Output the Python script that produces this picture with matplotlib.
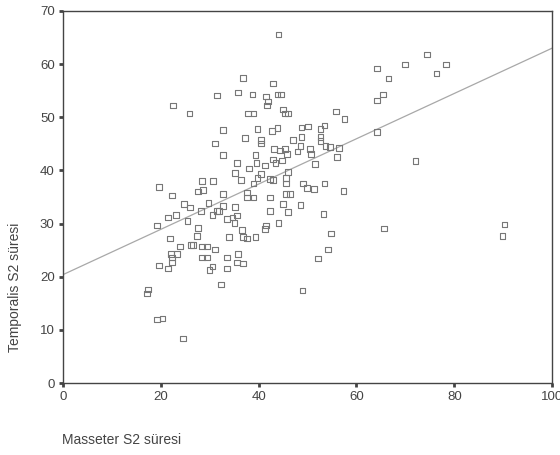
import matplotlib
matplotlib.use("Agg")
import matplotlib.pyplot as plt
import numpy as np

# ---------------------------------------------------------------------------
# Data (Masseter S2 vs Temporalis S2)
# ---------------------------------------------------------------------------
masseter = [
    44.1, 74.4, 69.9, 78.3, 76.3, 66.5, 65.4, 64.2, 64.2, 64.2,
    72.0, 36.8, 42.9, 35.8, 38.7, 41.5, 43.8, 44.6, 41.9, 41.7,
    37.8, 38.9, 45.0, 45.4, 46.0, 55.8, 57.5, 32.7, 39.7, 42.7,
    43.8, 48.7, 50.1, 52.6, 53.4, 37.2, 40.5, 40.5, 47.0, 48.7,
    52.6, 52.6, 32.7, 43.1, 44.4, 45.4, 45.8, 47.9, 48.5, 50.5,
    50.7, 53.6, 54.6, 56.4, 56.0, 35.6, 39.3, 39.5, 42.9, 43.4,
    44.8, 51.5, 35.2, 38.0, 41.3, 36.4, 38.9, 39.7, 40.5, 42.3,
    42.9, 45.6, 45.6, 46.0, 49.1, 49.9, 51.3, 53.4, 57.3, 32.7,
    37.6, 37.6, 38.9, 42.3, 45.6, 46.4, 31.5, 22.5, 25.8, 31.1,
    28.4, 30.7, 19.6, 22.3, 27.6, 28.6, 24.7, 26.0, 28.2, 29.7,
    19.2, 21.5, 23.1, 25.4, 30.5, 31.5, 31.9, 27.6, 27.4, 21.9,
    23.9, 26.2, 26.6, 28.4, 29.4, 31.1, 33.9, 22.1, 22.3, 22.3,
    23.3, 28.4, 29.4, 19.6, 21.5, 29.9, 30.5, 33.5, 33.5, 32.3,
    17.4, 17.2, 19.2, 20.4, 24.5, 32.7, 35.2, 42.3, 45.0, 46.0,
    48.5, 53.2, 33.5, 34.6, 35.0, 35.6, 41.5, 41.3, 44.0, 65.6,
    36.6, 36.8, 37.6, 39.3, 54.8, 35.8, 35.6, 36.8, 54.2, 52.1,
    48.9, 90.2, 89.8,
]
temporalis = [
    65.6, 61.8, 59.9, 59.9, 58.2, 57.3, 54.3, 59.2, 53.2, 47.2,
    41.8, 57.4, 56.4, 54.7, 54.3, 53.9, 54.3, 54.3, 53.0, 52.2,
    50.7, 50.7, 51.5, 50.7, 50.7, 51.1, 49.7, 47.6, 47.8, 47.4,
    48.0, 48.1, 48.3, 47.8, 48.5, 46.1, 45.7, 45.1, 45.7, 46.3,
    46.3, 45.5, 42.9, 44.0, 43.8, 44.0, 43.1, 43.6, 44.6, 44.0,
    43.1, 44.6, 44.4, 44.2, 42.5, 41.4, 42.9, 41.4, 42.1, 41.4,
    41.9, 41.2, 39.5, 40.4, 40.9, 38.2, 37.5, 38.6, 39.3, 38.4,
    38.2, 38.6, 37.5, 39.7, 37.5, 36.7, 36.5, 37.5, 36.1, 35.6,
    35.8, 34.9, 34.9, 34.9, 35.6, 35.6, 54.1, 52.2, 50.7, 45.1,
    38.0, 38.0, 36.9, 35.3, 36.0, 36.3, 33.7, 33.0, 32.4, 33.9,
    29.6, 31.1, 31.6, 30.5, 31.6, 32.4, 32.4, 29.2, 27.7, 27.2,
    25.7, 26.0, 26.0, 25.7, 25.7, 25.1, 27.5, 24.3, 23.6, 22.7,
    24.3, 23.6, 23.6, 22.1, 21.5, 21.3, 21.9, 23.6, 21.5, 18.5,
    17.6, 16.9, 12.0, 12.2, 8.4, 33.3, 33.1, 32.4, 33.7, 32.2,
    33.5, 31.8, 30.9, 31.1, 30.1, 31.5, 29.6, 29.0, 30.1, 29.1,
    28.8, 27.5, 27.2, 27.5, 28.1, 24.3, 22.7, 22.5, 25.1, 23.4,
    17.4, 29.8, 27.7,
]

# fit line as drawn in the reference
fit_intercept = 20.4
fit_slope = 0.426

x_ticks = [0, 20, 40, 60, 80, 100]
y_ticks = [0, 10, 20, 30, 40, 50, 60, 70]

# ---------------------------------------------------------------------------
# Plot
# ---------------------------------------------------------------------------
plt.rcParams["font.family"] = ["Liberation Sans", "DejaVu Sans"]

fig = plt.figure(figsize=(5.6, 4.55), dpi=100)
ax = fig.add_axes([0.1125, 0.158, 0.8735, 0.818])

ax.scatter(masseter, temporalis, marker="s", s=15, facecolors="none",
           edgecolors="#777777", linewidths=0.8, zorder=3)

line_x = np.array([0, 100])
ax.plot(line_x, fit_intercept + fit_slope * line_x, color="#a8a8a8",
        lw=0.9, zorder=2)

ax.set_xlim(0, 100)
ax.set_ylim(0, 70)
ax.set_xticks(x_ticks)
ax.set_yticks(y_ticks)
ax.tick_params(direction="out", length=3, width=2, colors="#444444",
               labelsize=9.5, pad=3)

for side in ax.spines.values():
    side.set_color("#444444")
    side.set_linewidth(1.0)

fig.text(15 / 560, 1 - 287 / 455, "Temporalis S2 süresi", rotation=90,
         ha="center", va="center", fontsize=10, color="#444444")
fig.text(62 / 560, 1 - 440 / 455, "Masseter S2 süresi",
         ha="left", va="center", fontsize=10, color="#444444")

fig.savefig("out.png", dpi=100)
plt.close(fig)
